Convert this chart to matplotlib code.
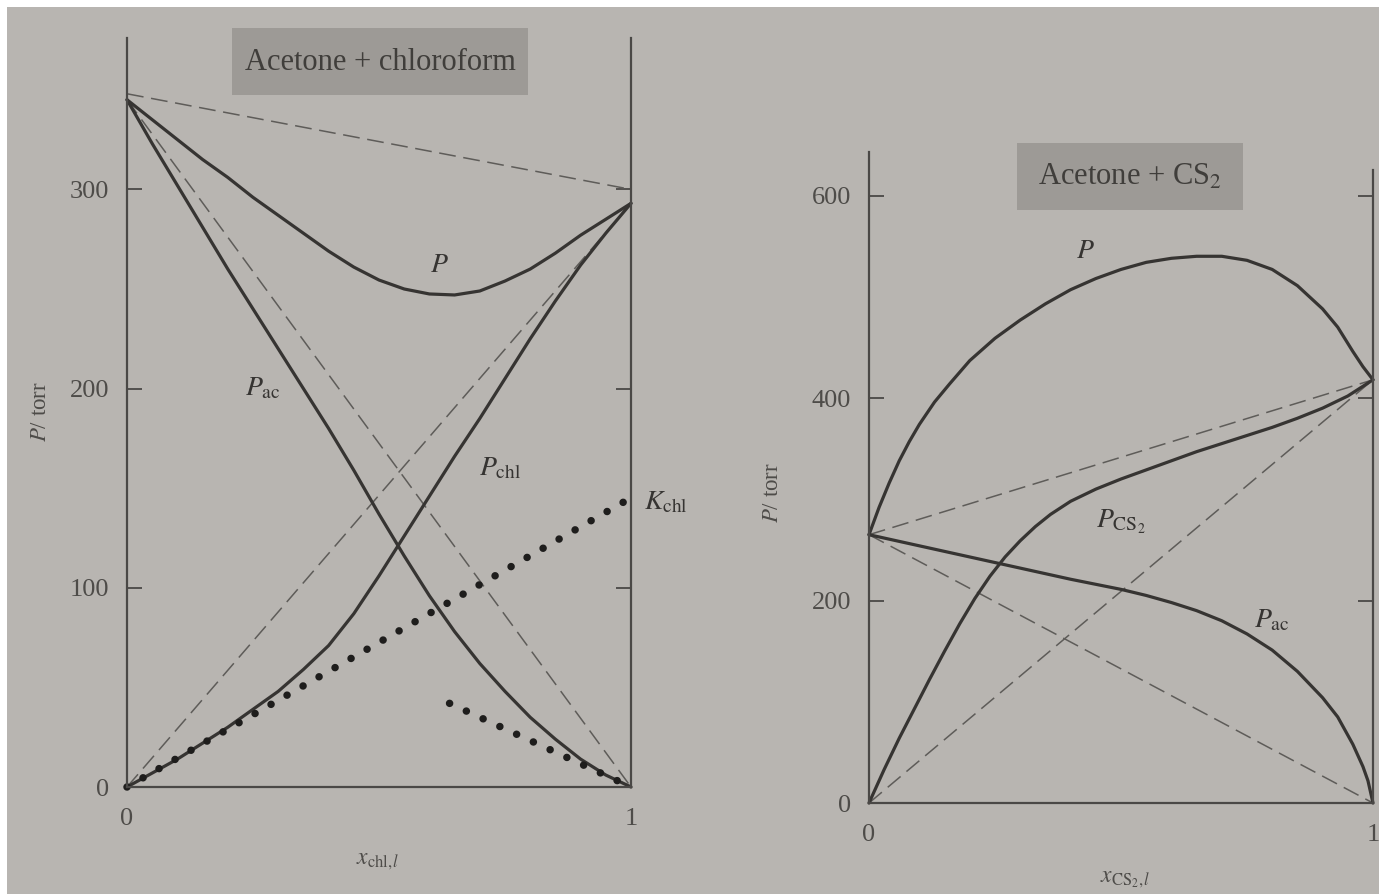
import matplotlib
matplotlib.use("Agg")
import matplotlib.pyplot as plt
from matplotlib.patches import Rectangle

plt.rcParams['font.family'] = 'serif'
plt.rcParams['font.serif'] = ['Liberation Serif', 'DejaVu Serif']
plt.rcParams['mathtext.fontset'] = 'stix'

# acetone + chloroform (x = mole fraction of chloroform)
x_chl = [0, 0.05, 0.1, 0.15, 0.2, 0.25, 0.3, 0.35, 0.4, 0.45, 0.5,
         0.55, 0.6, 0.65, 0.7, 0.75, 0.8, 0.85, 0.9, 0.95, 1.0]
p_tot_chl = [345, 335, 325, 315, 306, 296, 287, 278, 269, 261, 254.5,
             250, 247.5, 247, 249, 254, 260, 268, 277, 285, 293]
p_ac_chl = [345, 323, 302, 281, 260, 240, 220, 200, 180, 159, 137,
            116, 96, 78, 62, 48, 35, 24, 14, 6, 0]
p_chl = [0, 7, 14, 22, 30, 39, 48, 59, 71, 87, 106,
         126, 146, 166, 185, 205, 225, 244, 262, 278, 293]
raoult_tot_chl = [348, 300]
k_chl_line = ([0, 0.985], [0, 143])
k_ac_line = ([0.64, 1.0], [42, 0])

# acetone + CS2 (x = mole fraction of CS2)
x_tot_cs2 = [0, 0.02, 0.04, 0.06, 0.08, 0.1, 0.13, 0.16, 0.2, 0.25, 0.3, 0.35, 0.4,
             0.45, 0.5, 0.55, 0.6, 0.65, 0.7, 0.75, 0.8, 0.85, 0.9, 0.93, 0.96, 0.98, 1.0]
p_tot_cs2 = [265, 292, 316, 338, 357, 374, 396, 414, 437, 459, 477, 493, 507,
             518, 527, 534, 538, 540, 540, 536, 527, 511, 488, 470, 446, 431, 418]
x_cs2 = [0, 0.03, 0.06, 0.09, 0.12, 0.15, 0.18, 0.21, 0.24, 0.27, 0.3, 0.33, 0.36,
         0.4, 0.45, 0.5, 0.55, 0.6, 0.65, 0.7, 0.75, 0.8, 0.85, 0.9, 0.95, 1.0]
p_cs2 = [0, 33, 64, 93, 122, 150, 177, 202, 224, 243, 259, 273, 285,
         298, 310, 320, 329, 338, 347, 355, 363, 371, 380, 390, 402, 418]
x_ac_cs2 = [0, 0.1, 0.2, 0.3, 0.4, 0.5, 0.55, 0.6, 0.65, 0.7, 0.75, 0.8,
            0.85, 0.9, 0.93, 0.96, 0.98, 0.99, 1.0]
p_ac_cs2 = [265, 254, 243, 232, 221, 211, 205, 198, 190, 180, 167, 151,
            130, 104, 85, 58, 36, 22, 0]

W, H = 1379, 894
def fx(px): return px / W
def fy(py): return 1 - py / H

bg = '#b8b5b1'
ink = '#363432'
dash_col = '#5e5c59'
txt = '#4e4c49'

fig = plt.figure(figsize=(13.79, 8.94), dpi=100, facecolor='white')
fig.add_artist(Rectangle((fx(7), 0), 1, fy(7), transform=fig.transFigure,
                         facecolor=bg, edgecolor='none', zorder=-2))

def style(ax, ymax, yticks, rtop):
    ax.set_facecolor('none')
    ax.set_xlim(0, 1)
    ax.set_ylim(0, ymax)
    ax.spines['top'].set_visible(False)
    for s in ['left', 'right', 'bottom']:
        ax.spines[s].set_color('#4a4846')
        ax.spines[s].set_linewidth(1.6)
    ax.spines['right'].set_bounds(0, rtop)
    ax.set_yticks(yticks)
    ax.set_xticks([0, 1])
    ax.tick_params(axis='y', direction='in', length=11, width=1.3, pad=13,
                   labelsize=19, labelcolor=txt, color='#4a4846', right=True)
    ax.tick_params(axis='x', length=0, pad=15, labelsize=19, labelcolor=txt)

solid = dict(color=ink, lw=2.3, clip_on=False, solid_capstyle='round',
             solid_joinstyle='round')
dashed = dict(color=dash_col, lw=1.1, ls=(0, (11, 5)), clip_on=False)
dotted = dict(color='#1e1d1c', lw=5.4, ls=(0, (0.01, 2.45)),
              dash_capstyle='round', clip_on=False)

# left panel
axL = fig.add_axes([fx(127), fy(787), fx(631) - fx(127), fy(38) - fy(787)])
style(axL, 376, [0, 100, 200, 300], 376)
axL.plot([0, 1], raoult_tot_chl, **dashed)
axL.plot([0, 1], [p_ac_chl[0], 0], **dashed)
axL.plot([0, 1], [0, p_chl[-1]], **dashed)
axL.plot(x_chl, p_tot_chl, **solid)
axL.plot(x_chl, p_ac_chl, **solid)
axL.plot(x_chl, p_chl, **solid)
axL.plot(*k_chl_line, **dotted)
axL.plot(*k_ac_line, **dotted)
axL.text(0.62, 262, r'$P$', fontsize=20, ha='center', va='center', color=ink)
axL.text(0.27, 200, r'$P_{\rm ac}$', fontsize=20, ha='center', va='center', color=ink)
axL.text(0.74, 160, r'$P_{\rm chl}$', fontsize=20, ha='center', va='center', color=ink)
axL.text(1.07, 143, r'$K_{\rm chl}$', fontsize=20, ha='center', va='center', color=ink)

# right panel
axR = fig.add_axes([fx(869), fy(803), fx(1373) - fx(869), fy(152) - fy(803)])
style(axR, 643, [0, 200, 400, 600], 625)
axR.plot([0, 1], [0, p_cs2[-1]], **dashed)
axR.plot([0, 1], [p_ac_cs2[0], 0], **dashed)
axR.plot([0, 1], [p_ac_cs2[0], p_cs2[-1]], **dashed)
axR.plot(x_tot_cs2, p_tot_cs2, **solid)
axR.plot(x_cs2, p_cs2, **solid)
axR.plot(x_ac_cs2, p_ac_cs2, **solid)
axR.text(0.43, 545, r'$P$', fontsize=20, ha='center', va='center', color=ink)
axR.text(0.5, 278, r'$P_{\rm CS_2}$', fontsize=20, ha='center', va='center', color=ink)
axR.text(0.8, 180, r'$P_{\rm ac}$', fontsize=20, ha='center', va='center', color=ink)

# axis titles
fig.text(fx(40), fy(412), r'$P$/ torr', rotation=90, ha='center', va='center',
         fontsize=16.5, color=txt)
fig.text(fx(773), fy(493), r'$P$/ torr', rotation=90, ha='center', va='center',
         fontsize=16.5, color=txt)
fig.text(fx(378), fy(862), r'$x_{\rm chl,}\!_{l}$', ha='center', va='center',
         fontsize=17, color=txt)
fig.text(fx(1125), fy(880), r'$x_{\rm CS_2,}\!_{l}$', ha='center', va='center',
         fontsize=17, color=txt)

# boxed headings
fig.add_artist(Rectangle((fx(232), fy(95)), fx(528) - fx(232), fy(28) - fy(95),
                         transform=fig.transFigure, facecolor='#9d9a96',
                         edgecolor='none', zorder=-1))
fig.text(fx(380), fy(62), 'Acetone + chloroform', ha='center', va='center',
         fontsize=22, color='#403e3b')
fig.add_artist(Rectangle((fx(1017), fy(210)), fx(1243) - fx(1017), fy(143) - fy(210),
                         transform=fig.transFigure, facecolor='#9d9a96',
                         edgecolor='none', zorder=-1))
fig.text(fx(1130), fy(177), r'Acetone + CS$_2$', ha='center', va='center',
         fontsize=22, color='#403e3b')

fig.savefig('out.png', dpi=100, facecolor='white')
